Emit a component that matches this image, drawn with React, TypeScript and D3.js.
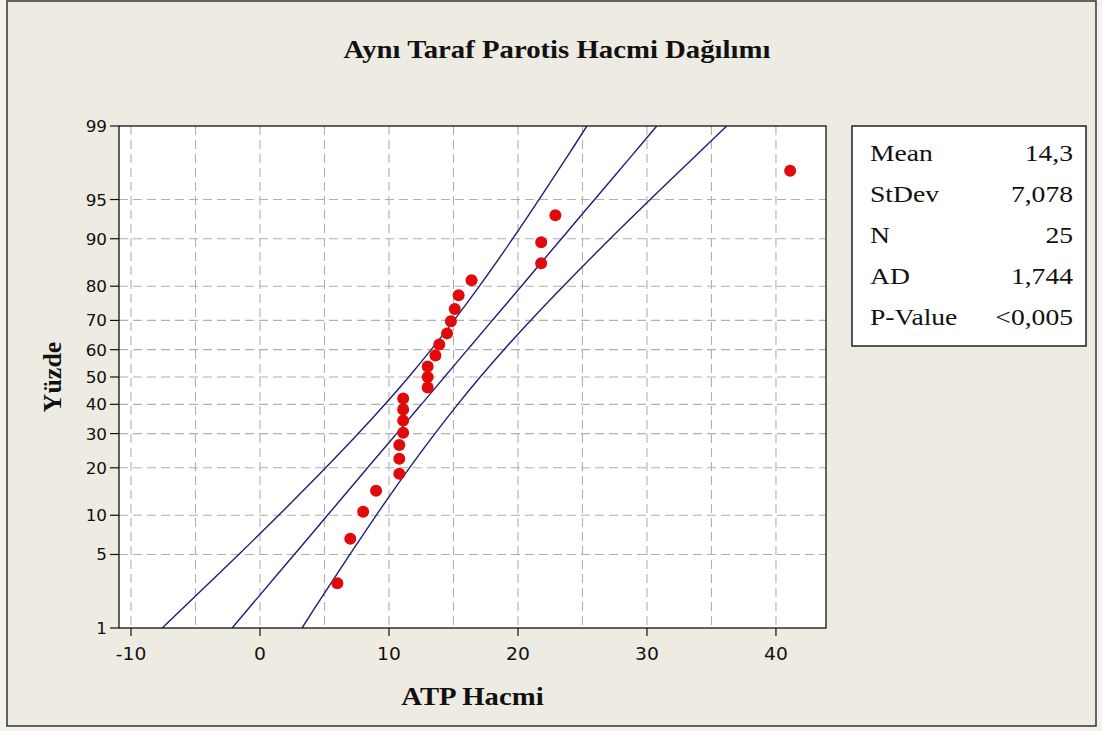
import React, { useEffect, useRef } from 'react';
import * as d3 from 'd3';

const title = 'Aynı Taraf Parotis Hacmi Dağılımı';
const xLabel = 'ATP Hacmi';
const yLabel = 'Yüzde';

const xTicks = [-10, 0, 10, 20, 30, 40];
const xGrid = [-10, -5, 0, 5, 10, 15, 20, 25, 30, 35, 40];
const yTicks = [1, 5, 10, 20, 30, 40, 50, 60, 70, 80, 90, 95, 99];

// the 25 observations and their plotted percent
const atpValues = [6.0, 7.0, 8.0, 9.0, 10.8, 10.8, 10.8, 11.1, 11.1, 11.1, 11.1, 13.0, 13.0, 13.0, 13.6, 13.9, 14.5, 14.8, 15.1, 15.4, 16.4, 21.8, 21.8, 22.9, 41.1];
const percents = [2.8, 6.7, 10.6, 14.6, 18.5, 22.4, 26.4, 30.3, 34.3, 38.2, 42.1, 46.1, 50.0, 53.9, 57.9, 61.8, 65.7, 69.7, 73.6, 77.6, 81.5, 85.4, 89.4, 93.3, 97.2];

// fitted line + confidence band, x value read at each percent
const linePercents = [1, 2, 5, 10, 20, 30, 40, 50, 60, 70, 80, 90, 95, 98, 99];
const fitLine = [-2.16, -0.24, 2.66, 5.23, 8.34, 10.59, 12.51, 14.3, 16.09, 18.01, 20.26, 23.37, 25.94, 28.84, 30.76];
const lowerBand = [-7.58, -5.2, -1.65, 1.45, 5.09, 7.62, 9.69, 11.53, 13.27, 15.04, 17.01, 19.59, 21.63, 23.88, 25.34];
const upperBand = [3.26, 4.72, 6.97, 9.01, 11.59, 13.56, 15.33, 17.07, 18.91, 20.98, 23.51, 27.15, 30.25, 33.8, 36.18];

const statLabels = ['Mean', 'StDev', 'N', 'AD', 'P-Value'];
const statValues = ['14,3', '7,078', '25', '1,744', '<0,005'];

// inverse normal cdf (Acklam) for the probability axis
function probit(p: number) {
  const a = [-39.6968302866538, 220.946098424521, -275.928510446969, 138.357751867269, -30.6647980661472, 2.50662827745924];
  const b = [-54.4760987982241, 161.585836858041, -155.698979859887, 66.8013118877197, -13.2806815528857];
  const c = [-0.00778489400243029, -0.322396458041136, -2.40075827716184, -2.54973253934373, 4.37466414146497, 2.93816398269878];
  const d = [0.00778469570904146, 0.32246712907004, 2.445134137143, 3.75440866190742];
  const pl = 0.02425;
  if (p < pl) {
    const q = Math.sqrt(-2 * Math.log(p));
    return (((((c[0] * q + c[1]) * q + c[2]) * q + c[3]) * q + c[4]) * q + c[5]) / ((((d[0] * q + d[1]) * q + d[2]) * q + d[3]) * q + 1);
  }
  if (p > 1 - pl) {
    const q = Math.sqrt(-2 * Math.log(1 - p));
    return -(((((c[0] * q + c[1]) * q + c[2]) * q + c[3]) * q + c[4]) * q + c[5]) / ((((d[0] * q + d[1]) * q + d[2]) * q + d[3]) * q + 1);
  }
  const q = p - 0.5;
  const r = q * q;
  return (((((a[0] * r + a[1]) * r + a[2]) * r + a[3]) * r + a[4]) * r + a[5]) * q / (((((b[0] * r + b[1]) * r + b[2]) * r + b[3]) * r + b[4]) * r + 1);
}

export default function App() {
  const ref = useRef<SVGSVGElement>(null);

  useEffect(() => {
    const W = 1102, H = 731;
    const left = 119, right = 826, top = 126, bottom = 628;
    const stretch = 1.15;
    const serif = '"Liberation Serif", "Times New Roman", serif';

    const svg = d3.select(ref.current);
    svg.selectAll('*').remove();

    const x = d3.scaleLinear().domain([-10.93, 43.88]).range([left, right]);
    const zScale = d3.scaleLinear().domain([probit(0.01), probit(0.99)]).range([bottom, top]);
    const y = (p: number) => zScale(probit(p / 100));

    svg.append('rect').attr('width', W).attr('height', H).attr('fill', '#f4f2ed');
    svg.append('rect')
      .attr('x', 7).attr('y', 1).attr('width', 1089).attr('height', 725)
      .attr('fill', '#eeebe2').attr('stroke', '#333').attr('stroke-width', 1.5);

    const txt = (tx: number, ty: number, s: string, opts: any) => {
      return svg.append('text')
        .attr('transform', `translate(${tx},${ty}) scale(${opts.sx || stretch},1)`)
        .attr('font-family', opts.family)
        .attr('font-size', opts.size)
        .attr('font-weight', opts.weight || 'normal')
        .attr('text-anchor', opts.anchor || 'start')
        .attr('fill', '#111')
        .text(s);
    };

    // title
    txt(557, 58, title, { family: serif, size: 25, weight: 'bold', anchor: 'middle' });

    // plot background
    svg.append('rect')
      .attr('x', left).attr('y', top).attr('width', right - left).attr('height', bottom - top)
      .attr('fill', '#fff');

    // grid
    svg.append('g').selectAll('line').data(xGrid).join('line')
      .attr('x1', d => x(d)).attr('x2', d => x(d)).attr('y1', top).attr('y2', bottom)
      .attr('stroke', '#b0b0b0').attr('stroke-width', 1.1).attr('stroke-dasharray', '9,5');
    svg.append('g').selectAll('line').data(yTicks.filter(t => t > 1 && t < 99)).join('line')
      .attr('x1', left).attr('x2', right).attr('y1', d => y(d)).attr('y2', d => y(d))
      .attr('stroke', '#b0b0b0').attr('stroke-width', 1.1).attr('stroke-dasharray', '9,5');

    // fitted line and bands, clipped to plot
    svg.append('clipPath').attr('id', 'plotclip')
      .append('rect').attr('x', left).attr('y', top).attr('width', right - left).attr('height', bottom - top);
    const line = d3.line<number>()
      .x(d => x(d))
      .y((d, i) => y(linePercents[i]))
      .curve(d3.curveCatmullRom);
    [lowerBand, fitLine, upperBand].forEach(s => {
      svg.append('path')
        .attr('d', line(s))
        .attr('clip-path', 'url(#plotclip)')
        .attr('fill', 'none')
        .attr('stroke', '#1f1f78')
        .attr('stroke-width', 1.4);
    });

    // points
    svg.append('g').selectAll('circle').data(atpValues).join('circle')
      .attr('cx', d => x(d))
      .attr('cy', (d, i) => y(percents[i]))
      .attr('r', 6)
      .attr('fill', '#e00a0a');

    // frame
    svg.append('rect')
      .attr('x', left).attr('y', top).attr('width', right - left).attr('height', bottom - top)
      .attr('fill', 'none').attr('stroke', '#111').attr('stroke-width', 1.3);

    // axes ticks and labels
    const tickFont = '"DejaVu Sans", Tahoma, sans-serif';
    xTicks.forEach(t => {
      svg.append('line')
        .attr('x1', x(t)).attr('x2', x(t)).attr('y1', bottom).attr('y2', bottom + 8)
        .attr('stroke', '#111').attr('stroke-width', 1.2);
      txt(x(t), bottom + 32, String(t), { family: tickFont, size: 17, anchor: 'middle', sx: 1.1 });
    });
    yTicks.forEach(t => {
      svg.append('line')
        .attr('x1', left - 9).attr('x2', left).attr('y1', y(t)).attr('y2', y(t))
        .attr('stroke', '#111').attr('stroke-width', 1.2);
      txt(left - 12, y(t) + 6, String(t), { family: tickFont, size: 16, anchor: 'end', sx: 1.05 });
    });

    txt((left + right) / 2, 705, xLabel, { family: serif, size: 25, weight: 'bold', anchor: 'middle' });
    svg.append('text')
      .attr('transform', `translate(61,${(top + bottom) / 2}) rotate(-90)`)
      .attr('font-family', serif)
      .attr('font-size', 26)
      .attr('font-weight', 'bold')
      .attr('text-anchor', 'middle')
      .attr('fill', '#111')
      .text(yLabel);

    // stats box
    svg.append('rect')
      .attr('x', 852).attr('y', 126).attr('width', 234).attr('height', 220)
      .attr('fill', '#fff').attr('stroke', '#222').attr('stroke-width', 1.5);
    statLabels.forEach((s, i) => {
      txt(870, 161 + i * 41, s, { family: serif, size: 24 });
      txt(1073, 161 + i * 41, statValues[i], { family: serif, size: 24, anchor: 'end' });
    });
  }, []);

  return (
    <svg ref={ref} width={1102} height={731} style={{ position: 'absolute', left: 0, top: 0 }} />
  );
}
